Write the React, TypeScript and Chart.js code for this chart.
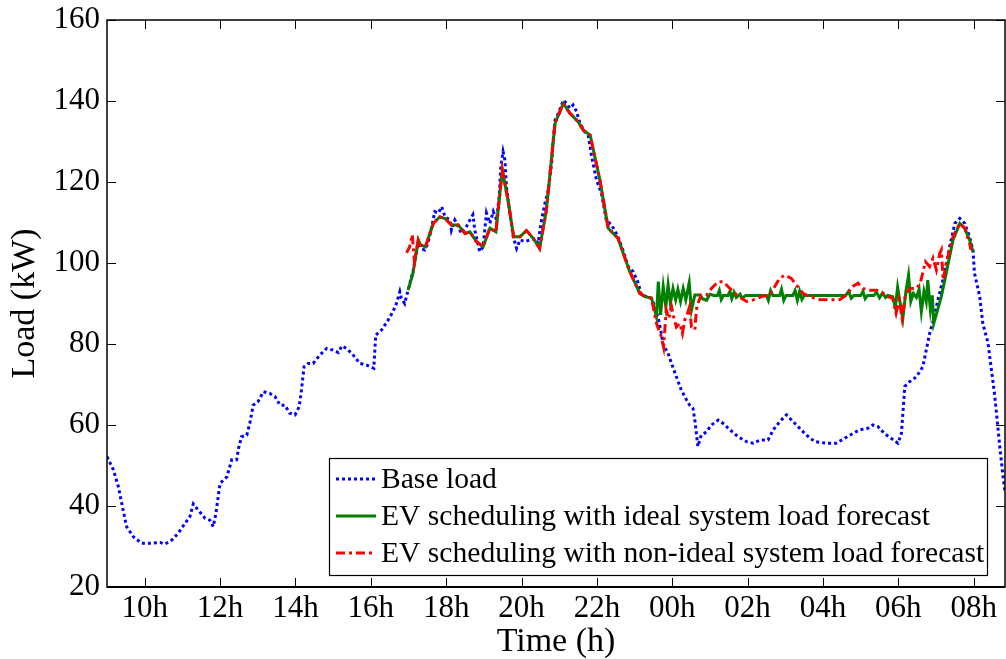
import React, { useEffect, useRef } from "react";
import { Chart, registerables } from "chart.js";

Chart.register(...registerables);

// ---------- axis ticks ----------
const X_TICKS = [10, 12, 14, 16, 18, 20, 22, 24, 26, 28, 30, 32];
const X_TICK_LABELS = ["10h", "12h", "14h", "16h", "18h", "20h", "22h", "00h", "02h", "04h", "06h", "08h"];
const Y_TICKS = [20, 40, 60, 80, 100, 120, 140, 160];
const X_MIN = 9;
const X_MAX = 32.83;

const SERIES_LABELS = [
  "Base load",
  "EV scheduling with ideal system load forecast",
  "EV scheduling with non-ideal system load forecast",
];

// ---------- data (time in hours since midnight of day 1, load in kW) ----------
const BASE_T = [
  9.0, 9.17, 9.3, 9.39, 9.52, 9.7, 9.92, 10.14, 10.41, 10.54, 10.72, 10.89, 11.07, 11.2, 11.29, 11.42, 11.6, 11.73,
  11.82, 11.89, 12.0, 12.18, 12.31, 12.44, 12.49, 12.57, 12.71, 12.79, 12.88, 13.01, 13.15, 13.32, 13.46, 13.59,
  13.72, 13.85, 13.99, 14.1, 14.16, 14.23, 14.34, 14.47, 14.65, 14.83, 15.0, 15.14, 15.23, 15.36, 15.53, 15.71,
  15.89, 16.08, 16.13, 16.29, 16.46, 16.59, 16.68, 16.77, 16.81, 16.9, 16.99, 17.12, 17.26, 17.34, 17.43, 17.52,
  17.61, 17.7, 17.79, 17.88, 17.97, 18.1, 18.14, 18.23, 18.32, 18.4, 18.54, 18.63, 18.71, 18.76, 18.8, 18.89,
  18.98, 19.07, 19.16, 19.25, 19.34, 19.41, 19.45, 19.51, 19.56, 19.6, 19.69, 19.78, 19.87, 19.96, 20.09, 20.22,
  20.36, 20.44, 20.53, 20.62, 20.71, 20.8, 20.84, 20.89, 20.98, 21.11, 21.2, 21.28, 21.37, 21.46, 21.55, 21.68,
  21.77, 21.86, 21.99, 22.12, 22.25, 22.39, 22.56, 22.69, 22.83, 22.96, 23.1, 23.18, 23.32, 23.45, 23.54, 23.63,
  23.71, 23.76, 23.89, 23.98, 24.11, 24.24, 24.38, 24.46, 24.55, 24.6, 24.64, 24.68, 24.77, 24.91, 25.04, 25.22,
  25.35, 25.53, 25.75, 25.97, 26.15, 26.33, 26.54, 26.68, 26.85, 27.03, 27.21, 27.38, 27.56, 27.78, 28.09, 28.35,
  28.57, 28.79, 28.97, 29.19, 29.32, 29.46, 29.63, 29.81, 29.99, 30.08, 30.12, 30.17, 30.3, 30.48, 30.65, 30.74,
  30.83, 30.92, 31.05, 31.14, 31.27, 31.36, 31.5, 31.63, 31.76, 31.89, 31.98, 32.02, 32.16, 32.24, 32.38, 32.47,
  32.55, 32.64, 32.69, 32.77, 32.83,
];
const BASE_V = [
  52.2, 48.9, 44.8, 40.7, 34.9, 32.4, 30.8, 30.8, 31.0, 30.6, 31.6, 33.3, 35.7, 37.4, 40.5, 39.0, 37.0, 36.5,
  34.9, 38.2, 45.6, 47.2, 51.4, 51.4, 54.2, 57.1, 57.5, 60.4, 64.9, 65.8, 68.2, 67.8, 67.0, 64.9,
  64.9, 62.9, 62.5, 64.5, 68.6, 74.4, 75.2, 75.2, 77.3, 78.9, 78.5, 77.9, 79.5, 78.9, 77.3, 75.2,
  74.8, 74.0, 82.2, 83.5, 85.9, 88.0, 90.0, 92.9, 91.3, 90.0, 93.3, 97.9, 104.9, 103.6, 103.2, 104.9,
  108.6, 112.7, 112.3, 113.9, 111.4, 110.6, 108.1, 110.6, 109.0, 107.3, 109.0, 110.6, 111.9, 108.1, 106.5, 102.8,
  104.0, 112.3, 109.8, 112.7, 110.6, 116.8, 123.8, 127.5, 125.4, 118.8, 112.3, 106.5, 103.6, 105.7, 105.3, 105.7,
  106.1, 104.9, 110.6, 114.7, 118.0, 124.6, 130.4, 135.3, 137.0, 140.2, 139.4, 138.2, 139.0, 137.4, 134.5, 132.4,
  131.6, 126.3, 120.5, 117.2, 110.6, 109.4, 106.5, 103.2, 99.1, 97.9, 95.0, 92.1, 91.7, 91.3, 89.2, 86.3,
  82.6, 79.8, 77.7, 75.2, 71.9, 68.6, 66.2, 64.9, 64.1, 61.2, 57.9, 54.7, 57.5, 58.3, 60.0, 61.2,
  60.4, 58.8, 57.1, 55.9, 55.5, 56.3, 56.3, 58.8, 60.8, 62.5, 60.8, 59.2, 57.5, 55.9, 55.5, 55.5,
  56.7, 57.9, 58.8, 59.2, 60.0, 59.6, 57.9, 56.7, 55.5, 57.9, 62.9, 69.5, 70.7, 71.9, 74.4, 78.5,
  82.6, 85.5, 90.9, 94.2, 99.1, 104.0, 109.8, 111.0, 109.8, 106.5, 103.2, 97.5, 91.7, 85.1, 80.2, 73.6,
  67.8, 59.6, 54.7, 48.0, 43.5,
];

const IDEAL_T = [
  16.99, 17.12, 17.26, 17.32, 17.45, 17.66, 17.83, 17.97, 18.14, 18.32, 18.5, 18.63, 18.8, 18.98, 19.16, 19.32,
  19.49, 19.64, 19.79, 19.96, 20.13, 20.31, 20.48, 20.66, 20.89, 21.11, 21.28, 21.5, 21.64, 21.82, 22.08, 22.3,
  22.56, 22.87, 23.14, 23.28, 23.45, 23.58, 23.63, 23.69, 23.76, 23.83, 23.89, 23.95, 24.02, 24.09, 24.15, 24.22,
  24.29, 24.36, 24.45, 24.51, 24.6, 24.73, 24.8, 24.91, 25.0, 25.1, 25.2, 25.25, 25.3, 25.36, 25.48, 25.53,
  25.58, 25.64, 25.7, 25.8, 25.85, 25.95, 26.2, 26.5, 26.55, 26.61, 26.67, 26.85, 26.9, 26.96, 27.02, 27.2,
  27.26, 27.32, 27.38, 27.44, 27.5, 28.0, 28.6, 28.68, 28.75, 28.82, 29.0, 29.06, 29.12, 29.18, 29.35, 29.42,
  29.5, 29.58, 29.66, 29.72, 29.85, 29.92, 29.98, 30.05, 30.12, 30.2, 30.27, 30.33, 30.4, 30.48, 30.55, 30.61,
  30.68, 30.74, 30.78, 30.85, 30.9, 30.94, 31.14, 31.27, 31.45, 31.63, 31.76, 31.89, 31.98,
];
const IDEAL_V = [
  93.3, 97.5, 105.7, 104.5, 104.0, 109.8, 111.4, 111.0, 109.4, 109.4, 107.3, 107.7, 105.3, 104.0, 108.6, 107.7,
  123.0, 115.6, 106.5, 106.5, 108.0, 106.1, 103.6, 113.1, 134.5, 139.4, 137.0, 134.9, 132.8, 131.6, 120.5, 108.6,
  106.1, 97.9, 92.5, 91.7, 91.3, 86.7, 95.4, 87.2, 94.2, 89.2, 94.6, 90.0, 93.7, 90.9, 93.5, 90.5,
  93.7, 90.9, 95.1, 88.4, 92.1, 92.1, 91.2, 90.8, 92.3, 92.0, 92.0, 93.2, 91.0, 92.0, 92.0, 93.0,
  91.2, 92.8, 91.5, 92.3, 91.3, 92.0, 92.0, 92.0, 90.8, 93.2, 92.0, 92.0, 93.5, 90.8, 92.0, 92.0,
  93.2, 90.8, 93.0, 91.0, 92.0, 92.0, 92.0, 93.0, 91.3, 92.0, 92.0, 93.0, 91.2, 92.0, 92.0, 92.8,
  91.4, 92.6, 91.5, 92.0, 91.7, 89.0, 94.0, 90.0, 86.4, 93.0, 97.0, 90.5, 92.5, 91.5, 93.5, 88.0,
  93.0, 90.5, 95.8, 88.5, 92.0, 85.1, 91.7, 97.5, 105.7, 109.8, 108.6, 105.7, 102.8,
];

const NONIDEAL_T = [
  16.95, 17.03, 17.1, 17.16, 17.26, 17.32, 17.45, 17.66, 17.83, 17.97, 18.14, 18.32, 18.5, 18.63, 18.8, 18.98,
  19.16, 19.32, 19.49, 19.64, 19.79, 19.96, 20.13, 20.31, 20.48, 20.66, 20.89, 21.11, 21.28, 21.5, 21.64, 21.82,
  22.08, 22.3, 22.56, 22.87, 23.14, 23.28, 23.45, 23.58, 23.71, 23.77, 23.84, 23.91, 23.98, 24.04, 24.11, 24.2,
  24.27, 24.33, 24.42, 24.46, 24.51, 24.6, 24.64, 24.68, 24.77, 24.91, 25.04, 25.22, 25.35, 25.53, 25.71, 25.97,
  26.15, 26.37, 26.59, 26.72, 26.85, 26.99, 27.16, 27.29, 27.47, 27.65, 27.91, 28.18, 28.44, 28.62, 28.79, 28.93,
  29.06, 29.24, 29.42, 29.59, 29.72, 29.85, 29.94, 30.02, 30.1, 30.19, 30.32, 30.48, 30.58, 30.72, 30.83, 30.92,
  31.01, 31.1, 31.14, 31.19, 31.27, 31.45, 31.63, 31.76, 31.89, 31.93,
];
const NONIDEAL_V = [
  102.5, 104.0, 107.0, 100.3, 105.7, 104.5, 104.0, 109.8, 111.4, 111.0, 109.4, 109.4, 107.3, 107.7, 105.3, 104.0,
  108.6, 107.7, 123.0, 115.6, 106.5, 106.5, 108.0, 106.1, 103.6, 113.1, 134.5, 139.4, 137.0, 134.9, 132.8, 131.6,
  120.5, 108.6, 106.1, 97.9, 92.5, 91.7, 91.3, 85.1, 81.8, 79.3, 88.4, 86.3, 89.2, 86.5, 84.2, 85.1,
  82.6, 85.9, 88.0, 89.2, 84.2, 83.5, 88.4, 90.0, 92.1, 92.1, 93.7, 95.4, 95.4, 93.7, 92.1, 90.5,
  90.9, 91.7, 92.1, 94.2, 96.2, 97.0, 96.2, 94.6, 92.5, 91.7, 91.0, 90.9, 90.9, 92.1, 94.2, 95.0,
  93.7, 93.3, 93.3, 92.5, 91.7, 91.3, 87.6, 90.9, 86.3, 92.5, 93.7, 93.7, 95.0, 100.3, 99.1, 101.2,
  98.3, 102.4, 103.2, 95.8, 99.9, 106.5, 109.8, 108.6, 104.9, 103.2,
];

// ---------- styling ----------
const FONT_FAMILY = "'Liberation Serif', 'Times New Roman', serif";
const BLUE = "#0000ff";
const GREEN = "#008000";
const RED = "#ff0000";

const toPoints = (ts: number[], vs: number[]) => ts.map((t, i) => ({ x: t, y: vs[i] }));

const framePlugin = {
  id: "matlabFrame",
  afterDatasetsDraw(chart: any) {
    const { ctx, chartArea: a, scales } = chart;
    const tickLen = 9;
    ctx.save();
    ctx.strokeStyle = "#000";
    ctx.lineWidth = 1;
    ctx.setLineDash([]);
    ctx.beginPath();
    scales.x.ticks.forEach((t: any) => {
      const px = Math.round(scales.x.getPixelForValue(t.value)) + 0.5;
      ctx.moveTo(px, a.bottom);
      ctx.lineTo(px, a.bottom - tickLen);
      ctx.moveTo(px, a.top);
      ctx.lineTo(px, a.top + tickLen);
    });
    scales.y.ticks.forEach((t: any) => {
      const py = Math.round(scales.y.getPixelForValue(t.value)) + 0.5;
      ctx.moveTo(a.left, py);
      ctx.lineTo(a.left + tickLen, py);
      ctx.moveTo(a.right, py);
      ctx.lineTo(a.right - tickLen, py);
    });
    ctx.stroke();
    ctx.lineWidth = 1.5;
    ctx.strokeRect(a.left, a.top, a.right - a.left, a.bottom - a.top);
    ctx.lineWidth = 2;
    ctx.beginPath();
    ctx.moveTo(a.left, a.bottom);
    ctx.lineTo(a.right, a.bottom);
    ctx.stroke();

    // legend box (inside the axes, lower right)
    const box = { left: 329, top: 458, right: 987, bottom: 575 };
    ctx.fillStyle = "#fff";
    ctx.fillRect(box.left, box.top, box.right - box.left, box.bottom - box.top);
    ctx.lineWidth = 1.2;
    ctx.strokeStyle = "#000";
    ctx.strokeRect(box.left + 0.5, box.top + 0.5, box.right - box.left, box.bottom - box.top);
    const rowH = 37;
    const firstRow = 479;
    ctx.font = `29.6px ${FONT_FAMILY}`;
    ctx.textBaseline = "middle";
    ctx.textAlign = "left";
    chart.data.datasets.forEach((ds: any, i: number) => {
      const y = firstRow + i * rowH;
      ctx.save();
      ctx.strokeStyle = ds.borderColor;
      ctx.lineWidth = ds.borderWidth;
      ctx.setLineDash(ds.borderDash || []);
      ctx.beginPath();
      ctx.moveTo(336, y);
      ctx.lineTo(376, y);
      ctx.stroke();
      ctx.restore();
      ctx.fillStyle = "#000";
      ctx.fillText(ds.label, 381, y + 1);
    });
    ctx.restore();
  },
};

export default function App() {
  const canvasRef = useRef<HTMLCanvasElement | null>(null);

  useEffect(() => {
    if (!canvasRef.current) return;
    const chart = new Chart(canvasRef.current, {
      type: "line",
      data: {
        datasets: [
          {
            label: SERIES_LABELS[0],
            data: toPoints(BASE_T, BASE_V),
            borderColor: BLUE,
            borderWidth: 3,
            borderDash: [3, 3],
            pointRadius: 0,
            tension: 0,
            order: 2,
          },
          {
            label: SERIES_LABELS[1],
            data: toPoints(IDEAL_T, IDEAL_V),
            borderColor: GREEN,
            borderWidth: 3,
            pointRadius: 0,
            tension: 0,
            order: 1,
          },
          {
            label: SERIES_LABELS[2],
            data: toPoints(NONIDEAL_T, NONIDEAL_V),
            borderColor: RED,
            borderWidth: 3,
            borderDash: [9, 4, 3, 4],
            pointRadius: 0,
            tension: 0,
            order: 0,
          },
        ],
      },
      options: {
        animation: false,
        responsive: false,
        devicePixelRatio: 1,
        layout: { padding: { top: 20, right: 1, left: 0, bottom: 0 } },
        plugins: {
          legend: { display: false },
          tooltip: { enabled: false },
        },
        scales: {
          x: {
            type: "linear",
            min: X_MIN,
            max: X_MAX,
            afterBuildTicks: (scale: any) => {
              scale.ticks = X_TICKS.map((v) => ({ value: v }));
            },
            afterFit: (scale: any) => {
              scale.height = 72;
              scale.paddingLeft = 0;
              scale.paddingRight = 0;
            },
            grid: { display: false, drawTicks: false },
            border: { display: false },
            ticks: {
              autoSkip: false,
              maxRotation: 0,
              padding: 3,
              color: "#000",
              font: { family: FONT_FAMILY, size: 31 },
              callback: (value: any) => {
                const idx = X_TICKS.indexOf(Number(value));
                return idx >= 0 ? X_TICK_LABELS[idx] : "";
              },
            },
            title: {
              display: true,
              text: "Time (h)",
              color: "#000",
              font: { family: FONT_FAMILY, size: 34, lineHeight: 1 },
              padding: { top: 0, bottom: 0 },
            },
          },
          y: {
            type: "linear",
            min: 20,
            max: 160,
            afterBuildTicks: (scale: any) => {
              scale.ticks = Y_TICKS.map((v) => ({ value: v }));
            },
            afterFit: (scale: any) => {
              scale.width = 107;
              scale.paddingTop = 0;
              scale.paddingBottom = 0;
            },
            grid: { display: false, drawTicks: false },
            border: { display: false },
            ticks: {
              padding: 7,
              color: "#000",
              font: { family: FONT_FAMILY, size: 31 },
            },
            title: {
              display: true,
              text: "Load (kW)",
              color: "#000",
              font: { family: FONT_FAMILY, size: 34, lineHeight: 1 },
              padding: { top: 8, bottom: 0 },
            },
          },
        },
      },
      plugins: [framePlugin],
    });
    return () => chart.destroy();
  }, []);

  return (
    <div style={{ position: "fixed", left: 0, top: 0, width: 1006, height: 659, background: "#fff" }}>
      <canvas ref={canvasRef} width={1006} height={659} style={{ display: "block" }} />
    </div>
  );
}
